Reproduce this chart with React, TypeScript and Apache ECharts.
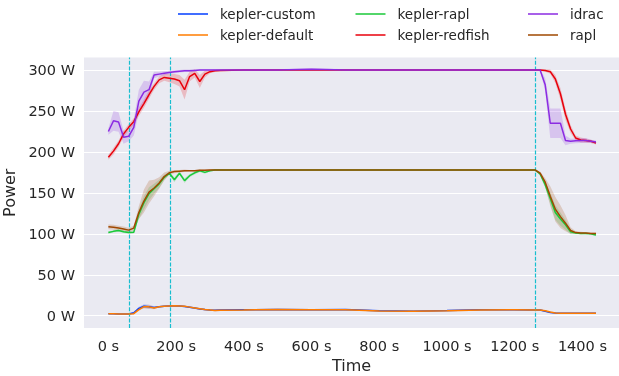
import React, { useEffect, useRef } from "react";
import * as echarts from "echarts";

const times = [0, 15, 30, 45, 60, 75, 90, 105, 120, 135, 150, 165, 180, 195, 210, 225, 240, 255, 270, 285, 300, 315, 330,
  400, 500, 600, 700, 800, 900, 1000, 1100, 1200, 1260,
  1275, 1290, 1305, 1320, 1335, 1350, 1365, 1380, 1395, 1410, 1425, 1440];

const keplerCustom = [2.5, 2.3, 2, 2, 2, 3.5, 9, 11.5, 11, 10, 11, 11.5, 12, 12, 11.8, 11.3, 10.3, 9.3, 8.3, 7.5, 7, 6.6, 7,
  7.3, 7.6, 7.3, 7.5, 6, 5.6, 6.3, 7.2, 7.3, 7,
  7, 5.5, 4, 3.2, 3, 3, 3, 3, 3, 3, 3, 3];
const keplerDefault = [2.5, 2.3, 2, 2, 2, 2.5, 7.5, 11, 10.8, 9.5, 11, 11.5, 12, 12.2, 12, 11.5, 10.5, 9.5, 8.5, 7.5, 7, 6.5, 6.8,
  7, 7.5, 7.3, 7.3, 5.8, 5.5, 6, 7, 7.3, 7,
  7, 6, 4.5, 3.3, 3, 3, 3, 3, 3, 3, 3, 3];
const keplerRapl = [101.5, 103, 104, 102.5, 101.5, 102, 124, 138, 149, 155, 161, 169, 174, 166, 174, 165, 171, 174.5, 177, 175, 177, 178, 178,
  178, 178, 178, 178, 178, 178, 178, 178, 178, 178,
  173, 160, 143, 126, 118, 111, 102.5, 101, 100.5, 100.5, 100, 98.5];
const keplerRedfish = [193.5, 201, 210, 222, 230, 237, 249, 259, 270, 280, 288, 291, 290, 289, 287, 276, 292, 296, 286, 295, 298, 299, 299.5,
  300, 300, 300, 300, 300, 300, 300, 300, 300, 300,
  300, 299.5, 298, 289, 271, 246, 228, 217, 214.5, 214, 213, 211];
const idrac = [225, 238, 236.5, 218, 219, 230, 262, 273, 276, 294, 295, 296, 297, 298, 298.5, 299, 299, 299.5, 300, 300, 300, 300, 300,
  300, 300, 301, 300, 300, 300, 300, 300, 300, 300,
  300, 282, 235, 235, 235, 214, 213, 213.5, 214, 214, 213, 212];
const rapl = [108.5, 108, 107, 106, 104.5, 107, 126, 140, 151, 156, 162, 170, 174.5, 176, 176.5, 177, 177, 177, 177.5, 177.5, 178, 178, 178,
  178, 178, 178, 178, 178, 178, 178, 178, 178, 178,
  174, 163, 146, 130, 121, 113, 104, 101.5, 101, 101, 100.5, 100.5];

const customSpread = [0.5, 0.5, 0.5, 0.5, 0.5, 1, 2, 2.5, 2.5, 1.5, 1, 1, 1, 1, 1, 1, 1, 1, 1, 1, 1, 1, 1,
  0.8, 0.8, 0.8, 0.8, 0.8, 0.8, 0.8, 0.8, 0.8, 0.8,
  0.8, 0.8, 0.8, 0.5, 0.5, 0.5, 0.5, 0.5, 0.5, 0.5, 0.5, 0.5];
const defaultSpread = [0.5, 0.5, 0.5, 0.5, 0.5, 0.8, 1.5, 2, 2.5, 1.5, 1, 1, 1, 1, 1, 1, 1, 1, 1, 1, 1, 1, 1,
  0.8, 0.8, 0.8, 0.8, 0.8, 0.8, 0.8, 0.8, 0.8, 0.8,
  0.8, 0.8, 0.8, 0.5, 0.5, 0.5, 0.5, 0.5, 0.5, 0.5, 0.5, 0.5];
const keplerRaplSpread = [1.5, 1.5, 1.5, 1.5, 1.5, 1.5, 6, 8, 8, 6, 5, 3, 2, 3, 2, 3, 2, 2, 1.5, 1.5, 1, 1, 1,
  0.8, 0.8, 0.8, 0.8, 0.8, 0.8, 0.8, 0.8, 0.8, 0.8,
  2, 4, 7, 9, 8, 6, 3, 1.5, 1, 1, 1, 1.5];
const redfishSpread = [3, 4, 4, 4, 4, 4, 5, 5, 5, 4, 4, 4, 5, 6, 7, 12, 6, 5, 8, 4, 2, 1.5, 1,
  1, 1, 1, 1, 1, 1, 1, 1, 1, 1,
  1, 1.5, 2.5, 5, 7, 7, 5, 3, 3, 2.5, 2, 2];
const idracSpread = [4, 12, 12, 8, 6, 10, 14, 14, 10, 4, 3, 2.5, 2, 2, 1.5, 1.5, 1.5, 1, 1, 1, 1, 1, 1,
  1, 1, 1.5, 1, 1, 1, 1, 1, 1, 1,
  1, 8, 18, 18, 18, 6, 3, 3, 3, 3, 2, 2];
const raplSpread = [3, 3, 3, 3, 3, 3, 8, 14, 14, 10, 7, 5, 2.5, 2, 1.5, 1.5, 1, 1, 1, 1, 1, 1, 1,
  0.8, 0.8, 0.8, 0.8, 0.8, 0.8, 0.8, 0.8, 0.8, 0.8,
  2, 5, 12, 15, 14, 10, 4, 1.5, 1.5, 1, 1, 1];

const xTicks = [0, 200, 400, 600, 800, 1000, 1200, 1400];
const yTicks = [0, 50, 100, 150, 200, 250, 300];
const markerTimes = [61, 182, 1261];

const FONT = "DejaVu Sans";
const TEXT = "#262626";

function rgba(hex: string, a: number) {
  const n = parseInt(hex.slice(1), 16);
  return `rgba(${(n >> 16) & 255},${(n >> 8) & 255},${n & 255},${a})`;
}

const seriesDefs = [
  { name: "kepler-custom", color: "#023eff", vals: keplerCustom, spread: customSpread },
  { name: "kepler-default", color: "#ff7c00", vals: keplerDefault, spread: defaultSpread },
  { name: "kepler-rapl", color: "#1ac938", vals: keplerRapl, spread: keplerRaplSpread },
  { name: "kepler-redfish", color: "#e8000b", vals: keplerRedfish, spread: redfishSpread },
  { name: "idrac", color: "#8b2be2", vals: idrac, spread: idracSpread },
  { name: "rapl", color: "#9f4800", vals: rapl, spread: raplSpread },
];

const legendPos = [
  { left: 178, top: 6 },
  { left: 178, top: 27 },
  { left: 355.5, top: 6 },
  { left: 355.5, top: 27 },
  { left: 528, top: 6 },
  { left: 528, top: 27 },
];

export default function App() {
  const ref = useRef<HTMLDivElement>(null);
  useEffect(() => {
    if (!ref.current) return;
    const chart = echarts.init(ref.current, undefined, { renderer: "svg" });
    const series: any[] = [];
    seriesDefs.forEach((d) => {
      series.push({
        type: "custom",
        name: d.name + " band",
        coordinateSystem: "cartesian2d",
        silent: true,
        z: 2,
        data: [[times[0], d.vals[0]]],
        renderItem: (_p: any, api: any) => {
          const upper = times.map((t, i) => api.coord([t, d.vals[i] + d.spread[i]]));
          const lower = times.map((t, i) => api.coord([t, d.vals[i] - d.spread[i]])).reverse();
          return {
            type: "polygon",
            shape: { points: upper.concat(lower) },
            style: { fill: rgba(d.color, 0.2) },
          };
        },
      });
    });
    series.push({
      type: "line",
      name: "markers",
      data: [],
      z: 3,
      markLine: {
        silent: true,
        symbol: ["none", "none"],
        label: { show: false },
        lineStyle: { color: "#17becf", width: 1.2, type: [4, 1.6] },
        data: markerTimes.map((t) => ({ xAxis: t })),
      },
    });
    seriesDefs.forEach((d, k) => {
      series.push({
        type: "line",
        name: d.name,
        color: d.color,
        symbol: "none",
        z: 4 + k,
        lineStyle: { color: d.color, width: 1.5 },
        data: times.map((t, i) => [t, d.vals[i]]),
      });
    });
    const legends = seriesDefs.map((d, k) => ({
      data: [d.name],
      left: legendPos[k].left,
      top: legendPos[k].top,
      padding: 0,
      selectedMode: false,
      icon: "rect",
      itemWidth: 30,
      itemHeight: 1.5,
      textStyle: { fontFamily: FONT, fontSize: 13.5, color: TEXT, padding: [0, 0, 0, 7], lineHeight: 16 },
    }));
    chart.setOption({
      animation: false,
      textStyle: { fontFamily: FONT },
      legend: legends,
      grid: {
        left: 84,
        right: 0,
        top: 57.5,
        bottom: 48,
        containLabel: false,
        outerBoundsMode: "none",
        show: true,
        backgroundColor: "#eaeaf2",
        borderWidth: 0,
      },
      xAxis: {
        type: "value",
        min: -72,
        max: 1508,
        axisLine: { show: false },
        axisTick: { show: false, customValues: xTicks },
        splitLine: { show: false },
        axisLabel: {
          customValues: xTicks,
          formatter: (v: number) => `${v} s`,
          fontSize: 14.5,
          color: TEXT,
          fontFamily: FONT,
          margin: 10,
        },
        name: "Time",
        nameLocation: "middle",
        nameGap: 24,
        nameTextStyle: { fontSize: 16, color: TEXT, fontFamily: FONT },
      },
      yAxis: {
        type: "value",
        min: -15,
        max: 315.3,
        axisLine: { show: false },
        axisTick: { show: false, customValues: yTicks },
        splitLine: { show: true, lineStyle: { color: "#ffffff", width: 1.2 } },
        axisLabel: {
          customValues: yTicks,
          formatter: (v: number) => `${v} W`,
          fontSize: 14.5,
          color: TEXT,
          fontFamily: FONT,
          margin: 9,
        },
        name: "Power",
        nameLocation: "middle",
        nameGap: 54,
        nameTextStyle: { fontSize: 16, color: TEXT, fontFamily: FONT },
      },
      series,
    });
    return () => chart.dispose();
  }, []);
  return (
    <div
      ref={ref}
      style={{ position: "fixed", left: 0, top: 0, width: 619, height: 376 }}
    />
  );
}
